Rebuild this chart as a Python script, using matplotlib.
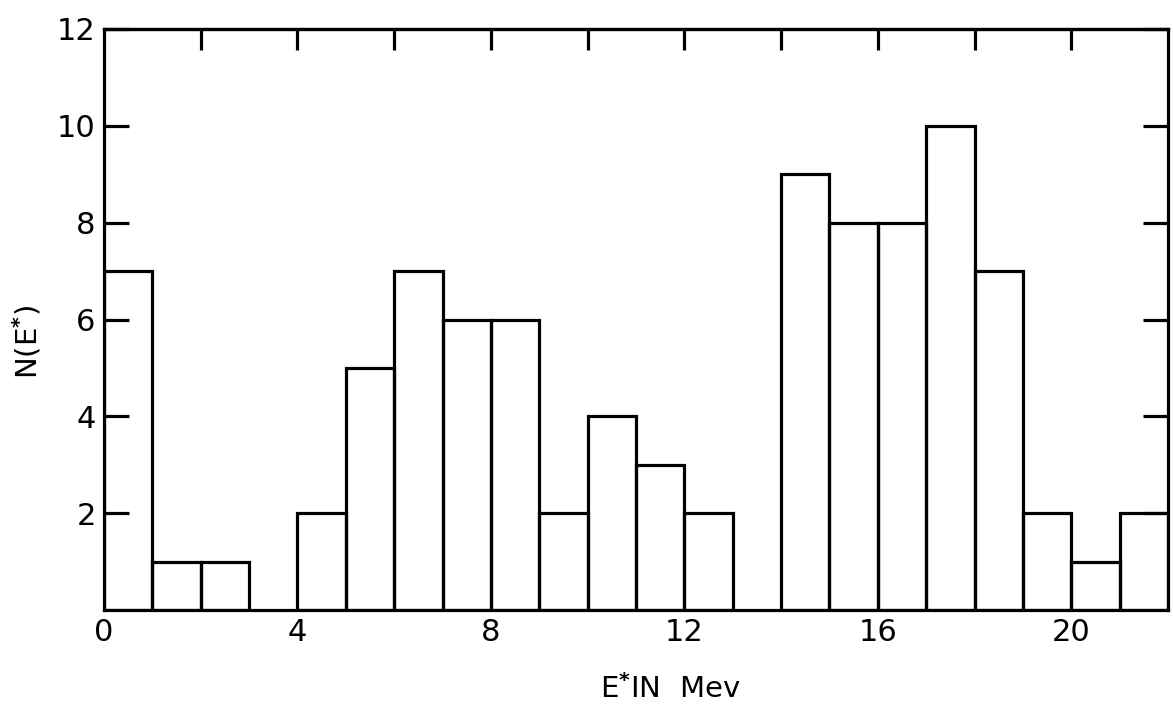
import numpy as np
import matplotlib
import matplotlib.pyplot as plt

matplotlib.use('Agg')

# histogram of excitation energies, 1 MeV bins from 0 to 22
BIN_LEFT = np.arange(0, 22, 1)
COUNTS = [7, 1, 1, 0, 2, 5, 7, 6, 6, 2, 4, 3, 2, 0, 9, 8, 8, 10, 7, 2, 1, 2]

X_TICKS = [0, 4, 8, 12, 16, 20]
Y_TICKS = [2, 4, 6, 8, 10, 12]
TOP_TICKS = np.arange(2, 22, 2)

LW = 2.3
plt.rcParams['font.family'] = ['DejaVu Sans']
plt.rcParams['mathtext.default'] = 'regular'

fig = plt.figure(figsize=(11.73, 7.10), dpi=100)
ax = fig.add_axes([104 / 1173, 1 - 610 / 710, (1168 - 104) / 1173, (610 - 29) / 710])

heights = np.array(COUNTS)
nz = heights > 0
ax.bar(BIN_LEFT[nz], heights[nz], width=1, align='edge', fill=False,
       edgecolor='black', linewidth=LW)

ax.set_xlim(0, 22)
ax.set_ylim(0, 12)
for s in ax.spines.values():
    s.set_linewidth(LW)

ax.set_xticks(X_TICKS)
ax.set_xticklabels([str(v) for v in X_TICKS])
ax.set_yticks(Y_TICKS)
ax.set_yticklabels([str(v) for v in Y_TICKS])
ax.tick_params(axis='x', length=0, labelsize=22, pad=6)
ax.tick_params(axis='y', direction='in', length=18, width=LW, labelsize=22,
               pad=6, right=True)

# inward ticks along the top edge
ax_top = ax.secondary_xaxis('top')
ax_top.set_xticks(TOP_TICKS)
ax_top.set_xticklabels([])
ax_top.tick_params(direction='in', length=15, width=LW)
ax_top.spines['top'].set_linewidth(LW)

fig.text(27 / 1173, 1 - 342 / 710, 'N(E$^{\\mathbf{*}}$)', rotation=90,
         fontsize=21, ha='center', va='center')
fig.text(670 / 1173, 1 - 698 / 710, 'E$^{\\mathbf{*}}$IN  Mev', fontsize=21,
         ha='center', va='baseline')

fig.savefig('out.png', dpi=100)
